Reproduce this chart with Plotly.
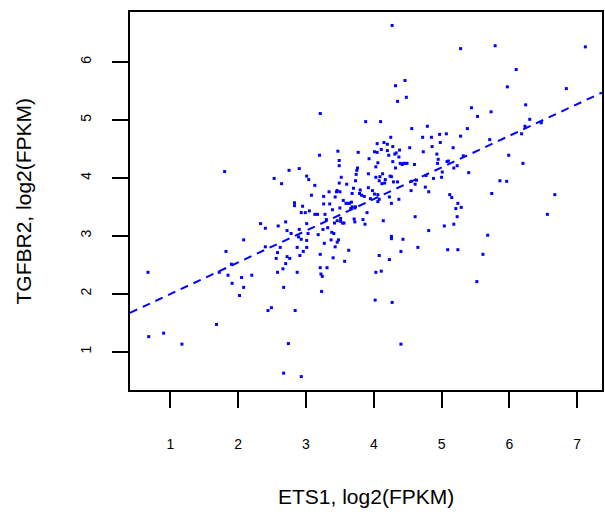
import plotly.graph_objects as go

# ETS1 expression, log2(FPKM)
ets1 = [
    0.67, 0.68, 0.90, 1.17, 1.68, 1.80, 1.72, 1.82, 1.85, 1.91, 1.90, 2.02, 2.05, 2.08, 2.08, 2.20,
    2.33, 2.40, 2.40, 2.44, 2.49, 2.53, 2.59, 2.64, 2.56, 2.58, 2.62, 2.58, 2.66, 2.67, 2.70, 2.70,
    2.72, 2.72, 2.75, 2.76, 2.74, 2.67, 2.78, 2.83, 2.83, 2.84, 2.87, 2.87, 2.89, 2.90, 2.90, 2.91,
    2.93, 2.93, 2.95, 2.96, 2.99, 3.01, 3.01, 3.01, 3.01, 3.03, 3.04, 3.05, 3.08, 2.93, 3.13, 3.13,
    3.17, 3.18, 3.20, 3.21, 3.21, 3.21, 3.22, 3.23, 3.24, 3.25, 3.26, 3.26, 3.27, 3.28, 3.30, 3.31,
    3.32, 3.34, 3.35, 3.37, 3.38, 3.39, 3.40, 3.41, 3.42, 3.43, 3.43, 3.45, 3.46, 3.46, 3.46, 3.47,
    3.48, 3.49, 3.49, 3.49, 3.50, 3.50, 3.51, 3.51, 3.52, 3.54, 3.55, 3.56, 3.57, 3.59, 3.60, 3.62,
    3.63, 3.64, 3.66, 3.67, 3.68, 3.68, 3.70, 3.71, 3.72, 3.72, 3.73, 3.73, 3.74, 3.75, 3.76, 3.77,
    3.79, 3.80, 3.82, 3.84, 3.86, 3.87, 3.88, 3.90, 3.92, 3.92, 3.93, 3.95, 3.98, 4.01, 4.01, 4.03,
    4.03, 4.03, 4.02, 4.05, 4.05, 4.06, 4.06, 4.06, 4.08, 4.08, 4.08, 4.09, 4.10, 4.11, 4.11, 4.12,
    4.13, 4.14, 4.15, 4.16, 4.17, 4.20, 4.20, 4.22, 4.23, 4.23, 4.24, 4.25, 4.26, 4.26, 4.26, 4.26,
    4.27, 4.27, 4.28, 4.28, 4.29, 4.31, 4.32, 4.32, 4.33, 4.35, 4.35, 4.37, 4.37, 4.38, 4.39, 4.40,
    4.40, 4.42, 4.43, 4.44, 4.46, 4.47, 4.48, 4.49, 4.53, 4.55, 4.55, 4.56, 4.60, 4.61, 4.61, 4.63,
    4.65, 4.72, 4.73, 4.76, 4.77, 4.79, 4.81, 4.81, 4.85, 4.86, 4.88, 4.93, 4.94, 4.95, 4.97, 4.98,
    5.00, 5.01, 5.04, 5.07, 5.08, 5.09, 5.10, 5.12, 5.15, 5.17, 5.18, 5.18, 5.21, 5.23, 5.23, 5.24,
    5.24, 5.28, 5.28, 5.29, 5.32, 5.38, 5.40, 5.44, 5.52, 5.53, 5.61, 5.68, 5.71, 5.73, 5.74, 5.79,
    5.86, 5.96, 5.97, 5.99, 6.10, 6.18, 6.20, 6.24, 6.23, 6.30, 6.47, 6.56, 6.67, 6.84, 7.12,
]

# TGFBR2 expression, log2(FPKM)
tgfbr2 = [
    2.37, 1.26, 1.32, 1.13, 1.47, 4.11, 2.37, 2.73, 2.32, 2.18, 2.51, 1.97, 2.28, 2.93, 2.11, 2.32,
    3.21, 3.13, 2.81, 1.71, 1.76, 3.99, 3.17, 3.90, 2.61, 2.71, 2.80, 2.37, 2.43, 2.11, 3.24, 2.52,
    2.64, 3.09, 4.13, 2.61, 1.14, 0.63, 3.04, 3.57, 3.52, 1.71, 2.37, 2.80, 2.98, 4.16, 3.11, 2.66,
    3.40, 2.94, 3.51, 2.73, 3.40, 2.92, 2.80, 4.03, 3.21, 3.04, 3.97, 3.43, 3.70, 0.57, 3.87, 3.37,
    3.37, 3.02, 4.39, 5.11, 2.68, 2.45, 2.34, 2.04, 2.30, 3.11, 3.55, 3.68, 2.87, 3.37, 3.28, 2.45,
    3.14, 3.76, 3.55, 2.93, 3.06, 3.45, 2.62, 3.04, 3.22, 3.67, 2.81, 3.76, 3.26, 2.89, 3.78, 4.46,
    2.93, 4.30, 4.21, 3.91, 3.48, 3.76, 3.25, 3.30, 4.01, 3.22, 3.61, 3.22, 2.56, 3.56, 3.89, 3.56,
    2.75, 3.56, 3.47, 3.58, 3.50, 3.73, 3.82, 3.29, 3.48, 3.24, 3.50, 3.95, 4.06, 4.13, 4.17, 4.44,
    3.73, 3.79, 3.70, 3.28, 3.68, 3.20, 4.97, 3.40, 4.07, 3.83, 4.33, 3.64, 3.78, 3.72, 4.45, 4.01,
    4.19, 2.37, 1.89, 4.59, 4.44, 3.71, 3.59, 4.26, 3.95, 2.66, 3.63, 4.02, 4.97, 4.49, 2.39, 3.90,
    4.07, 3.26, 4.61, 3.91, 3.97, 4.58, 4.47, 4.39, 2.59, 3.67, 4.03, 4.70, 3.56, 2.99, 2.95, 4.02,
    1.85, 6.63, 4.28, 4.54, 3.93, 4.41, 5.59, 4.17, 4.43, 5.32, 3.93, 3.63, 4.36, 4.48, 4.25, 2.73,
    1.13, 4.23, 2.94, 4.25, 5.68, 4.25, 5.39, 4.25, 4.52, 3.78, 3.94, 4.85, 4.23, 3.33, 3.89, 3.96,
    2.80, 4.70, 4.45, 3.84, 4.04, 4.89, 3.76, 3.09, 4.70, 4.54, 3.99, 4.41, 4.25, 4.32, 4.75, 4.61,
    4.01, 4.10, 3.17, 4.76, 4.28, 2.76, 4.29, 3.71, 3.66, 4.52, 3.20, 4.17, 3.47, 4.21, 3.33, 3.56,
    2.76, 4.72, 6.23, 3.49, 4.38, 4.85, 4.09, 5.21, 2.21, 5.06, 2.68, 3.01, 4.66, 5.14, 3.73, 6.28,
    3.95, 3.94, 5.57, 4.39, 5.87, 4.76, 4.25, 5.26, 4.89, 5.01, 4.95, 3.37, 3.71, 5.54, 6.26,
]

# fitted regression line
fit_intercept = 1.45
fit_slope = 0.546

x_ticks = [1, 2, 3, 4, 5, 6, 7]
y_ticks = [1, 2, 3, 4, 5, 6]
x_range = [0.404, 7.366]
y_range = [0.339, 6.862]

x_title = "ETS1, log2(FPKM)"
y_title = "TGFBR2, log2(FPKM)"

FONT = "Liberation Sans, Arial, Helvetica, sans-serif"

fig = go.Figure()
fig.add_trace(go.Scatter(
    x=ets1, y=tgfbr2, mode="markers",
    marker=dict(symbol="square", size=3, color="#0000FF", line=dict(width=0)),
    showlegend=False, hoverinfo="x+y",
))
line_x = [x_range[0], x_range[1]]
line_y = [fit_intercept + fit_slope * v for v in line_x]
fig.add_trace(go.Scatter(
    x=line_x, y=line_y, mode="lines",
    line=dict(color="#0000FF", width=2, dash="8px,6px"),
    showlegend=False, hoverinfo="skip",
))

fig.update_layout(
    width=605, height=517,
    margin=dict(l=130, r=1, t=12, b=127, pad=0),
    paper_bgcolor="white", plot_bgcolor="white",
    font=dict(family=FONT, color="black"),
    xaxis=dict(
        range=x_range, tickvals=x_ticks, ticktext=[str(t) for t in x_ticks],
        showgrid=False, zeroline=False,
        showline=True, mirror=True, linecolor="black", linewidth=1.5,
        ticks="outside", ticklen=16, tickwidth=1.5, tickcolor="black",
        tickfont=dict(size=14, family=FONT, color="black"),
        ticklabelstandoff=24,
    ),
    yaxis=dict(
        range=y_range, tickvals=y_ticks, ticktext=[str(t) for t in y_ticks],
        showgrid=False, zeroline=False,
        showline=True, mirror=True, linecolor="black", linewidth=1.5,
        ticks="outside", ticklen=16, tickwidth=1.5, tickcolor="black",
        tickfont=dict(size=14, family=FONT, color="black"),
        tickangle=-90, ticklabelstandoff=16,
    ),
    annotations=[
        dict(text=x_title, xref="paper", yref="paper", x=0.5, y=-0.283,
             xanchor="center", yanchor="middle", showarrow=False,
             font=dict(size=21, family=FONT, color="black")),
        dict(text=y_title, xref="paper", yref="paper", x=-0.2257, y=0.5,
             xanchor="center", yanchor="middle", showarrow=False, textangle=-90,
             font=dict(size=21, family=FONT, color="black")),
    ],
)

fig.write_html("out.html")
